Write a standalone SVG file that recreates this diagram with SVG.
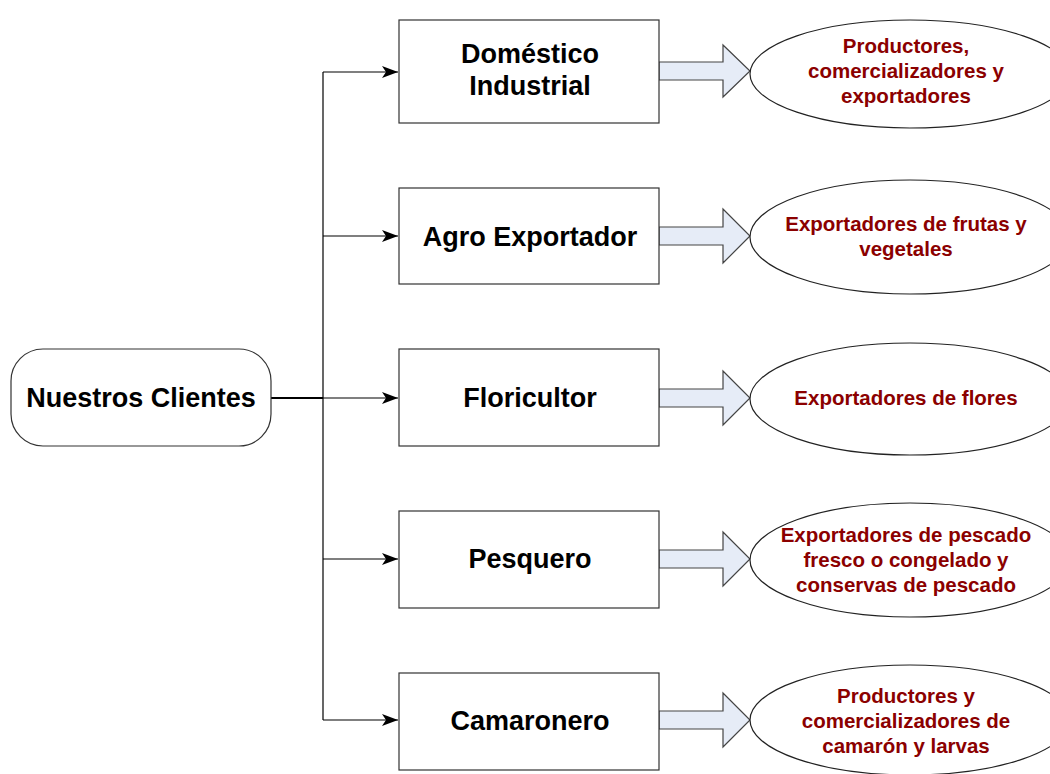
<svg xmlns="http://www.w3.org/2000/svg" width="1050" height="774" viewBox="0 0 1050 774">
<defs>
<marker id="ah" markerWidth="16" markerHeight="12" refX="16" refY="6" orient="auto" markerUnits="userSpaceOnUse">
<path d="M0,0 L16,6 L0,12 L4,6 Z" fill="#000"/>
</marker>
<style>
.box{fill:#fff;stroke:#333;stroke-width:1.2}
.lbl{font-family:"Liberation Sans",Arial,sans-serif;font-weight:bold;font-size:27px;fill:#000;text-anchor:middle}
.ell{fill:#fff;stroke:#222;stroke-width:1.2}
.etx{font-family:"Liberation Sans",Arial,sans-serif;font-weight:bold;font-size:20.5px;fill:#8B0000;text-anchor:middle}
.blk{fill:#E6ECF7;stroke:#444;stroke-width:1.2}
.con{fill:none;stroke:#000;stroke-width:1.2}
</style>
</defs>
<rect width="1050" height="774" fill="#fff"/>
<g id="connectors">
<line class="con" x1="271" y1="398" x2="323" y2="398" style="stroke-width:2"/>
<line class="con" x1="323" y1="72" x2="323" y2="720"/>
<line class="con" x1="323" y1="72" x2="398" y2="72" marker-end="url(#ah)"/>
<line class="con" x1="323" y1="236" x2="398" y2="236" marker-end="url(#ah)"/>
<line class="con" x1="323" y1="398" x2="398" y2="398" marker-end="url(#ah)"/>
<line class="con" x1="323" y1="559" x2="398" y2="559" marker-end="url(#ah)"/>
<line class="con" x1="323" y1="720" x2="398" y2="720" marker-end="url(#ah)"/>
<path class="blk" d="M659,62 H723 V45 L750,71 L723,97 V80 H659 Z"/>
<path class="blk" d="M659,227 H723 V209 L750,236 L723,263 V245 H659 Z"/>
<path class="blk" d="M659,389 H723 V371 L750,398 L723,425 V407 H659 Z"/>
<path class="blk" d="M659,550 H723 V532 L750,559 L723,586 V568 H659 Z"/>
<path class="blk" d="M659,711 H723 V693 L750,720 L723,747 V729 H659 Z"/>
</g>
<g id="root">
<rect class="box" x="11" y="349" width="260" height="97" rx="32" ry="32"/>
<text class="lbl" x="141" y="407">Nuestros Clientes</text>
</g>
<g id="n1">
<rect class="box" x="399" y="20" width="260" height="103"/>
<text class="lbl" x="530" y="63">Doméstico</text>
<text class="lbl" x="530" y="95">Industrial</text>
</g>
<g id="n2">
<rect class="box" x="399" y="188" width="260" height="96"/>
<text class="lbl" x="530" y="246">Agro Exportador</text>
</g>
<g id="n3">
<rect class="box" x="399" y="349" width="260" height="97"/>
<text class="lbl" x="530" y="407">Floricultor</text>
</g>
<g id="n4">
<rect class="box" x="399" y="511" width="260" height="97"/>
<text class="lbl" x="530" y="568">Pesquero</text>
</g>
<g id="n5">
<rect class="box" x="399" y="673" width="260" height="97"/>
<text class="lbl" x="530" y="730">Camaronero</text>
</g>
<g id="e1">
<ellipse class="ell" cx="910" cy="74" rx="160" ry="54"/>
<text class="etx" x="906" y="53">Productores,</text>
<text class="etx" x="906" y="78">comercializadores y</text>
<text class="etx" x="906" y="103">exportadores</text>
</g>
<g id="e2">
<ellipse class="ell" cx="910" cy="237" rx="160" ry="57"/>
<text class="etx" x="906" y="231">Exportadores de frutas y</text>
<text class="etx" x="906" y="256">vegetales</text>
</g>
<g id="e3">
<ellipse class="ell" cx="910" cy="399" rx="160" ry="56"/>
<text class="etx" x="906" y="405">Exportadores de flores</text>
</g>
<g id="e4">
<ellipse class="ell" cx="910" cy="560" rx="160" ry="57"/>
<text class="etx" x="906" y="542">Exportadores de pescado</text>
<text class="etx" x="906" y="567">fresco o congelado y</text>
<text class="etx" x="906" y="592">conservas de pescado</text>
</g>
<g id="e5">
<ellipse class="ell" cx="910" cy="720" rx="160" ry="55"/>
<text class="etx" x="906" y="703">Productores y</text>
<text class="etx" x="906" y="728">comercializadores de</text>
<text class="etx" x="906" y="753">camarón y larvas</text>
</g>
</svg>
